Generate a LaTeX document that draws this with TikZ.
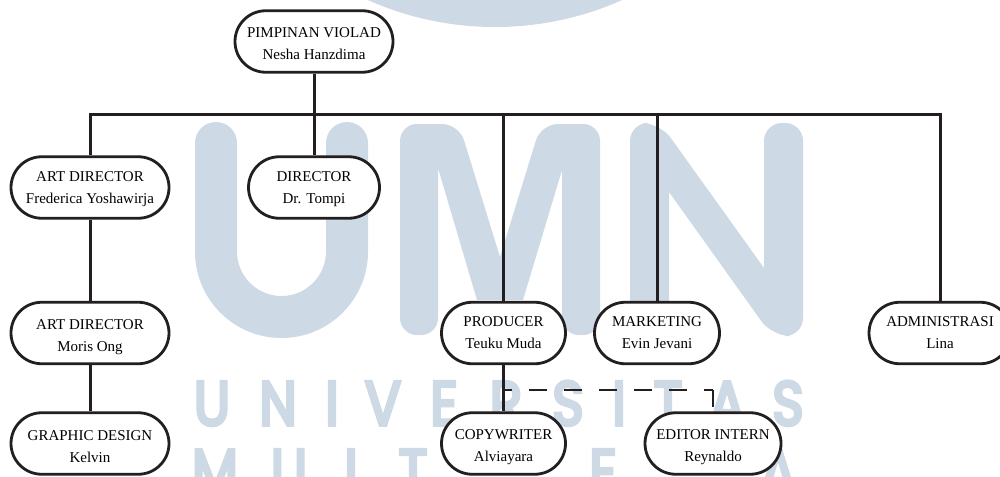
\documentclass[tikz,border=0pt]{standalone}
\usetikzlibrary{shapes.misc}
\usepackage{fontspec}
\setmainfont{Liberation Serif}
\newfontfamily\wmfont[FakeBold=6]{Poppins}
\definecolor{wmblue}{RGB}{205,217,228}
\definecolor{inkline}{RGB}{35,31,32}
\tikzset{
  pill/.style={rounded rectangle,draw=inkline,line width=2.8pt,fill=white,minimum height=61.5pt,inner sep=0pt},
  pilltext/.style={align=center,inner sep=0pt,font=\fontsize{15}{22}\selectfont,text=black},
  conn/.style={draw=inkline,line width=3pt},
  dashconn/.style={draw=inkline,line width=2.7pt,dash pattern=on 18pt off 17pt,dash phase=9pt},
  wmletter/.style={anchor=base,inner sep=0pt,text=wmblue,font=\wmfont\fontsize{62}{62}\selectfont,xscale=.86,transform shape}
}
\begin{document}
\begin{tikzpicture}[x=1pt,y=-1pt]
\useasboundingbox (0,0) rectangle (1000,476);
\fill[white] (0,0) rectangle (1000,476);
% watermark
\fill[wmblue] (495,-285) circle (312);
\draw[wmblue,line width=42pt,line cap=round] (216,143) -- (216,251.5) arc[start angle=180,end angle=0,radius=65.5] -- (347,143);
\fill[wmblue,rounded corners=17pt] (400,230) -- (400,124) -- (459,124) [sharp corners] -- (500,257) [rounded corners=17pt] -- (541,124) -- (600,124) -- (600,335) -- (562,335) [sharp corners] -- (562,170) -- (523,300) -- (477,300) -- (438,168) [rounded corners=17pt] -- (438,335) -- (400,335) -- cycle;
\fill[wmblue,rounded corners=18pt] (630,230) -- (630,123) -- (660,123) [sharp corners] -- (764,268) [rounded corners=18pt] -- (764,123) -- (803,123) -- (803,336) -- (772,336) [sharp corners] -- (669,192) [rounded corners=18pt] -- (669,336) -- (630,336) -- cycle;
\foreach \c/\x/\n in {U/212/a,N/278/b,I/332/c,V/383/d,E/444/e,R/506/f,S/568/g,I/619/h,T/668/i,A/727/j,S/788/k}
  \node[wmletter] (wmtop\n) at (\x,425) {\c};
\foreach \c/\x/\n in {M/215/a,U/289/b,L/356/c,T/413/d,E/603/g,A/778/j}
  \node[wmletter] (wmbot\n) at (\x,493) {\c};
% nodes
\node[pill,minimum width=158pt,label={[pilltext,yshift=-2pt]center:{PIMPINAN VIOLAD\\Nesha Hanzdima}}] (ceo) at (314,41.5) {};
\node[pill,minimum width=158pt,label={[pilltext,yshift=-1.5pt]center:{ART DIRECTOR\\Frederica Yoshawirja}}] (art) at (90,187.5) {};
\node[pill,minimum width=131pt,label={[pilltext,yshift=-1.5pt]center:{DIRECTOR\\Dr. Tompi}}] (dir) at (314,187.5) {};
\node[pill,minimum width=158pt,label={[pilltext,yshift=-4.5pt]center:{ART DIRECTOR\\Moris Ong}}] (arttwo) at (90,333) {};
\node[pill,minimum width=158pt,label={[pilltext,yshift=-3.5pt]center:{GRAPHIC DESIGN\\Kelvin}}] (graphic) at (90,443.5) {};
\node[pill,minimum width=124pt,label={[pilltext,yshift=0.5pt]center:{PRODUCER\\Teuku Muda}}] (prod) at (503.5,333) {};
\node[pill,minimum width=125pt,label={[pilltext,yshift=0.5pt]center:{MARKETING\\Evin Jevani}}] (mark) at (657,333) {};
\node[pill,minimum width=142pt,label={[pilltext,yshift=0.5pt]center:{ADMINISTRASI\\Lina}}] (admin) at (940,333) {};
\node[pill,minimum width=124pt,label={[pilltext,yshift=-3.5pt]center:{COPYWRITER\\Alviayara}}] (copy) at (503.5,443.5) {};
\node[pill,minimum width=136pt,label={[pilltext,yshift=-3.5pt]center:{EDITOR INTERN\\Reynaldo}}] (edit) at (713,443.5) {};
% bar
\coordinate (barleft) at (art.north |- 0,114.5);
\coordinate (barright) at (admin.north |- 0,114.5);
\coordinate (barprod) at (prod.north |- 0,114.5);
\coordinate (barmark) at (mark.north |- 0,114.5);
\coordinate (dashstart) at (prod.south |- 0,390);
\coordinate (dashcorner) at (edit.north |- 0,390);
\draw[conn,line cap=rect] (barleft) -- (barright);
\draw[conn] (ceo) -- (dir);
\draw[conn] (barleft) -- (art);
\draw[conn] (art) -- (arttwo);
\draw[conn] (arttwo) -- (graphic);
\draw[conn] (barprod) -- (prod);
\draw[conn] (prod) -- (copy);
\draw[conn] (barmark) -- (mark);
\draw[conn] (barright) -- (admin);
\draw[dashconn] (dashcorner) -- (dashstart);
\draw[conn,line width=2.7pt,dash pattern=on 17pt off 30pt] (dashcorner) -- (edit.north);
\end{tikzpicture}
\end{document}
